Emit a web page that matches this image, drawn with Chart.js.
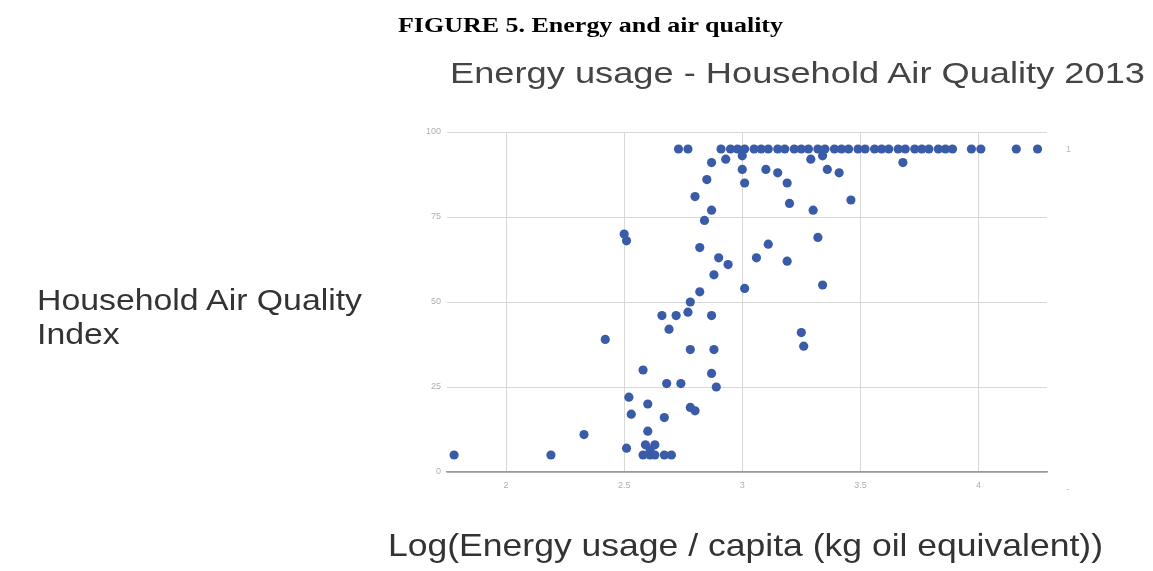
<!DOCTYPE html>
<html>
<head>
<meta charset="utf-8">
<title>Energy and air quality</title>
<script src="https://cdn.jsdelivr.net/npm/chart.js"></script>
<style>
  body { margin: 0; background: #ffffff; width: 1153px; height: 571px; overflow: hidden; position: relative; }
  #chart { position: absolute; left: 0; top: 0; }
  .txt { position: absolute; white-space: nowrap; transform-origin: 0 0; }
  #figTitle { font: bold 20px "Liberation Serif", "Times New Roman", serif; color: #000; left: 398px; top: 13px; line-height: 24px; }
  #chartTitle { font: 30px "Liberation Sans", Arial, sans-serif; color: #444; left: 450px; top: 56px; line-height: 34px; }
  #yTitle { font: 30px "Liberation Sans", Arial, sans-serif; color: #333; left: 37px; top: 283px; line-height: 34px; }
  #xTitle { font: 32px "Liberation Sans", Arial, sans-serif; color: #333; left: 388px; top: 527px; line-height: 36px; }
  .faint { position: absolute; font: 9px "Liberation Sans", Arial, sans-serif; color: #b8b8b8; }
</style>
</head>
<body>
<canvas id="chart" width="1153" height="571"></canvas>
<div class="txt" id="figTitle" data-w="385">FIGURE 5. Energy and air quality</div>
<div class="txt" id="chartTitle" data-w="695">Energy usage - Household Air Quality 2013</div>
<div class="txt" id="yTitle" data-w="325">Household Air Quality<br>Index</div>
<div class="txt" id="xTitle" data-w="715">Log(Energy usage / capita (kg oil equivalent))</div>
<div class="faint" style="left:1066px; top:144px;">1</div>
<div class="faint" style="left:1066px; top:484px;">-</div>
<script>
// log10 of energy use per capita (kg oil equivalent)
const energyLog = [
  // countries at the top of the index
  2.73, 2.77, 2.91, 2.95, 2.98, 3.01, 3.05, 3.08, 3.11, 3.15, 3.18, 3.22,
  3.25, 3.28, 3.32, 3.35, 3.39, 3.42, 3.45, 3.49, 3.52, 3.56, 3.59, 3.62,
  3.66, 3.69, 3.73, 3.76, 3.79, 3.83, 3.86, 3.89, 3.97, 4.01, 4.16, 4.25,
  // the rest
  2.87, 2.93, 3.00, 2.85, 3.00, 3.01, 3.10, 3.15, 3.19, 3.29, 3.34, 3.36, 3.41, 3.68,
  2.80, 2.87, 2.84, 3.20, 3.30, 3.46,
  2.50, 2.51, 2.82, 3.11, 3.32, 2.90, 2.94, 3.06, 3.19, 2.88, 3.34, 3.01,
  2.82, 2.78, 2.77, 2.66, 2.72, 2.87, 2.69, 3.25, 3.26, 2.42, 2.78, 2.88,
  2.58, 2.87, 2.68, 2.74, 2.89, 2.52, 2.60, 2.78, 2.80, 2.53, 2.67, 2.33,
  2.60, 1.78, 2.19, 2.51, 2.59, 2.63, 2.58, 2.61, 2.63, 2.67, 2.70, 2.61
];

// household air quality index, same order
const airQuality = [
  95, 95, 95, 95, 95, 95, 95, 95, 95, 95, 95, 95,
  95, 95, 95, 95, 95, 95, 95, 95, 95, 95, 95, 95,
  95, 95, 95, 95, 95, 95, 95, 95, 95, 95, 95, 95,
  91, 92, 93, 86, 89, 85, 89, 88, 85, 92, 93, 89, 88, 91,
  81, 77, 74, 79, 77, 80,
  70, 68, 66, 67, 69, 63, 61, 63, 62, 58, 55, 54,
  53, 50, 47, 46, 46, 46, 42, 41, 37, 39, 36, 36,
  30, 29, 26, 26, 25, 22, 20, 19, 18, 17, 16, 11,
  12, 5, 5, 7, 8, 8, 5, 5, 5, 5, 5, 6.5
];

const xTicks = [2, 2.5, 3, 3.5, 4];
const yTicks = [0, 25, 50, 75, 100];

const points = energyLog.map((x, i) => ({ x: x, y: airQuality[i] }));

const tickFont = { family: 'Liberation Sans, Arial, sans-serif', size: 9 };

new Chart(document.getElementById('chart').getContext('2d'), {
  type: 'scatter',
  data: {
    datasets: [{
      label: 'Household Air Quality',
      data: points,
      backgroundColor: '#3a5ca8',
      borderColor: '#3a5ca8',
      pointRadius: 4.6,
      pointBorderWidth: 0
    }]
  },
  options: {
    responsive: false,
    animation: false,
    layout: { padding: { left: 400, right: 106, top: 132, bottom: 60 } },
    plugins: {
      legend: { display: false },
      title: { display: false },
      tooltip: { enabled: false }
    },
    scales: {
      x: {
        type: 'linear',
        min: 1.75,
        max: 4.29,
        afterFit: s => { s.height = 39; },
        afterBuildTicks: s => { s.ticks = xTicks.map(v => ({ value: v })); },
        grid: { color: '#d8d8d8', lineWidth: 1, drawTicks: false },
        border: { display: true, color: '#9a9a9a', width: 1.5 },
        ticks: { color: '#b0b0b0', font: tickFont, padding: 8, callback: v => String(v) }
      },
      y: {
        type: 'linear',
        min: 0,
        max: 100,
        afterFit: s => { s.width = 47; },
        afterBuildTicks: s => { s.ticks = yTicks.map(v => ({ value: v })); },
        grid: {
          color: ctx => ctx.tick && ctx.tick.value === 0 ? '#9a9a9a' : '#d8d8d8',
          lineWidth: ctx => ctx.tick && ctx.tick.value === 0 ? 1.5 : 1,
          drawTicks: false
        },
        border: { display: false },
        ticks: { color: '#b0b0b0', font: tickFont, padding: 6, callback: v => String(v) }
      }
    }
  }
});

// stretch the overlay texts to the widths they take in the figure
document.querySelectorAll('.txt').forEach(el => {
  const natural = el.getBoundingClientRect().width;
  const target = parseFloat(el.dataset.w);
  el.style.transform = 'scaleX(' + (target / natural) + ')';
});
</script>
</body>
</html>
